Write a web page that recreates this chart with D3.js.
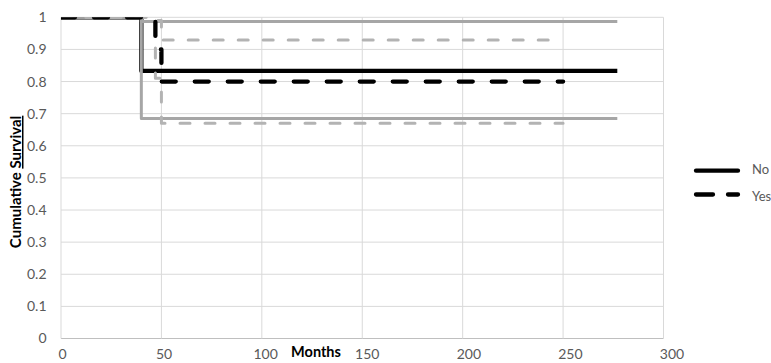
<!DOCTYPE html>
<html>
<head>
<meta charset="utf-8">
<script src="https://cdn.jsdelivr.net/npm/d3@7"></script>
<style>
  html, body { margin: 0; padding: 0; background: #fff; }
  svg { display: block; font-family: Lato, "Liberation Sans", sans-serif; }
</style>
</head>
<body>
<svg id="chart" width="771" height="363"></svg>
<script>
// Kaplan-Meier estimates (step functions), months vs cumulative survival
const noTimes  = [0, 40, 277];
const noSurv   = [1, 0.833, 0.833];
const noUpper  = [1, 0.987, 0.987];
const noLower  = [1, 0.685, 0.685];

const yesTimes = [0, 47, 50, 250];
const yesSurv  = [1, 0.9, 0.8, 0.8];
const yesUpper = [1, 0.99, 0.929, 0.929];
const yesLower = [1, 0.81, 0.67, 0.67];

const xTicks = [0, 50, 100, 150, 200, 250, 300];
const yTicks = [0, 0.1, 0.2, 0.3, 0.4, 0.5, 0.6, 0.7, 0.8, 0.9, 1];
const legendLabels = ["No", "Yes"];

const svg = d3.select("#chart");
const plot = { left: 61, right: 663.5, top: 17.3, bottom: 338.5 };

const x = d3.scaleLinear().domain([0, 300]).range([plot.left, plot.right]);
const y = d3.scaleLinear().domain([0, 1]).range([plot.bottom, plot.top]);

// gridlines
const grid = svg.append("g");
grid.selectAll("line.h").data(yTicks).join("line")
  .attr("x1", plot.left).attr("x2", plot.right)
  .attr("y1", d => y(d)).attr("y2", d => y(d))
  .attr("stroke", d => d === 0 ? "#bfbfbf" : "#d9d9d9").attr("stroke-width", 1);
grid.selectAll("line.v").data(xTicks).join("line")
  .attr("y1", plot.top).attr("y2", plot.bottom)
  .attr("x1", d => x(d)).attr("x2", d => x(d))
  .attr("stroke", "#d9d9d9").attr("stroke-width", 1);

// axes (labels only)
const yAxis = svg.append("g").attr("transform", `translate(${plot.left - 14.5},0)`)
  .call(d3.axisLeft(y).tickValues(yTicks).tickSize(0).tickFormat(d3.format("~g")));
const xAxis = svg.append("g").attr("transform", `translate(0,${plot.bottom + 8})`)
  .call(d3.axisBottom(x).tickValues(xTicks).tickSize(0).tickFormat(d3.format("d")));
[yAxis, xAxis].forEach(a => {
  a.select(".domain").remove();
  a.selectAll("text").attr("fill", "#595959").style("font-size", "14px")
    .style("font-family", "Lato, 'Liberation Sans', sans-serif");
});
yAxis.selectAll("text").attr("x", 0);
// category labels sit slightly right of their gridlines, drifting with distance
xAxis.selectAll(".tick text").attr("dx", d => 1 + d / 300 * 7);

// axis titles
svg.append("text").attr("x", 316).attr("y", 357).attr("text-anchor", "middle")
  .style("font-size", "14.5px").style("font-weight", "bold").attr("fill", "#000")
  .text("Months");
const yt = svg.append("text")
  .attr("transform", `translate(21,${(plot.top + plot.bottom) / 2 + 4}) rotate(-90)`)
  .attr("text-anchor", "middle")
  .style("font-size", "15px").style("font-weight", "bold").attr("fill", "#000");
yt.append("tspan").text("Cumulative ");
yt.append("tspan").style("text-decoration", "underline").text("Survival");

// clip series to the plot area
svg.append("defs").append("clipPath").attr("id", "plotClip")
  .append("rect").attr("x", plot.left).attr("y", plot.top)
  .attr("width", plot.right - plot.left).attr("height", plot.bottom - plot.top);
const series = svg.append("g").attr("clip-path", "url(#plotClip)");

const step = d3.line().x(d => x(d[0])).y(d => y(d[1])).curve(d3.curveStepAfter);
const pairs = (t, v) => t.map((tt, i) => [tt, v[i]]);

function draw(t, v, color, width, dash, cap) {
  series.append("path").datum(pairs(t, v)).attr("d", step)
    .attr("fill", "none").attr("stroke", color).attr("stroke-width", width)
    .attr("stroke-dasharray", dash).attr("stroke-linecap", cap || "butt")
    .attr("stroke-linejoin", "round");
}

// group "No": estimate then confidence bounds
draw(noTimes, noSurv, "#000", 4.3, null);
draw(noTimes, noUpper, "#a6a6a6", 3, null);
draw(noTimes, noLower, "#a6a6a6", 3, null);
// group "Yes": confidence bounds then estimate
draw(yesTimes, yesUpper, "#b3b3b3", 3, "10,15", "round");
draw(yesTimes, yesLower, "#b3b3b3", 3, "10,15", "round");
draw(yesTimes, yesSurv, "#000", 4.3, "14,19", "round");

// legend
const legend = svg.append("g");
const legendY = [170.7, 194.5];
legendLabels.forEach((lab, i) => {
  legend.append("line").attr("x1", 696).attr("x2", 738)
    .attr("y1", legendY[i]).attr("y2", legendY[i])
    .attr("stroke", "#000").attr("stroke-width", 4.3)
    .attr("stroke-linecap", "round")
    .attr("stroke-dasharray", i === 0 ? null : "17,15");
  legend.append("text").attr("x", 752).attr("y", legendY[i] + (i === 0 ? -1 : 2))
    .attr("dy", "0.35em").attr("fill", "#595959").style("font-size", "13px").text(lab);
});
</script>
</body>
</html>
